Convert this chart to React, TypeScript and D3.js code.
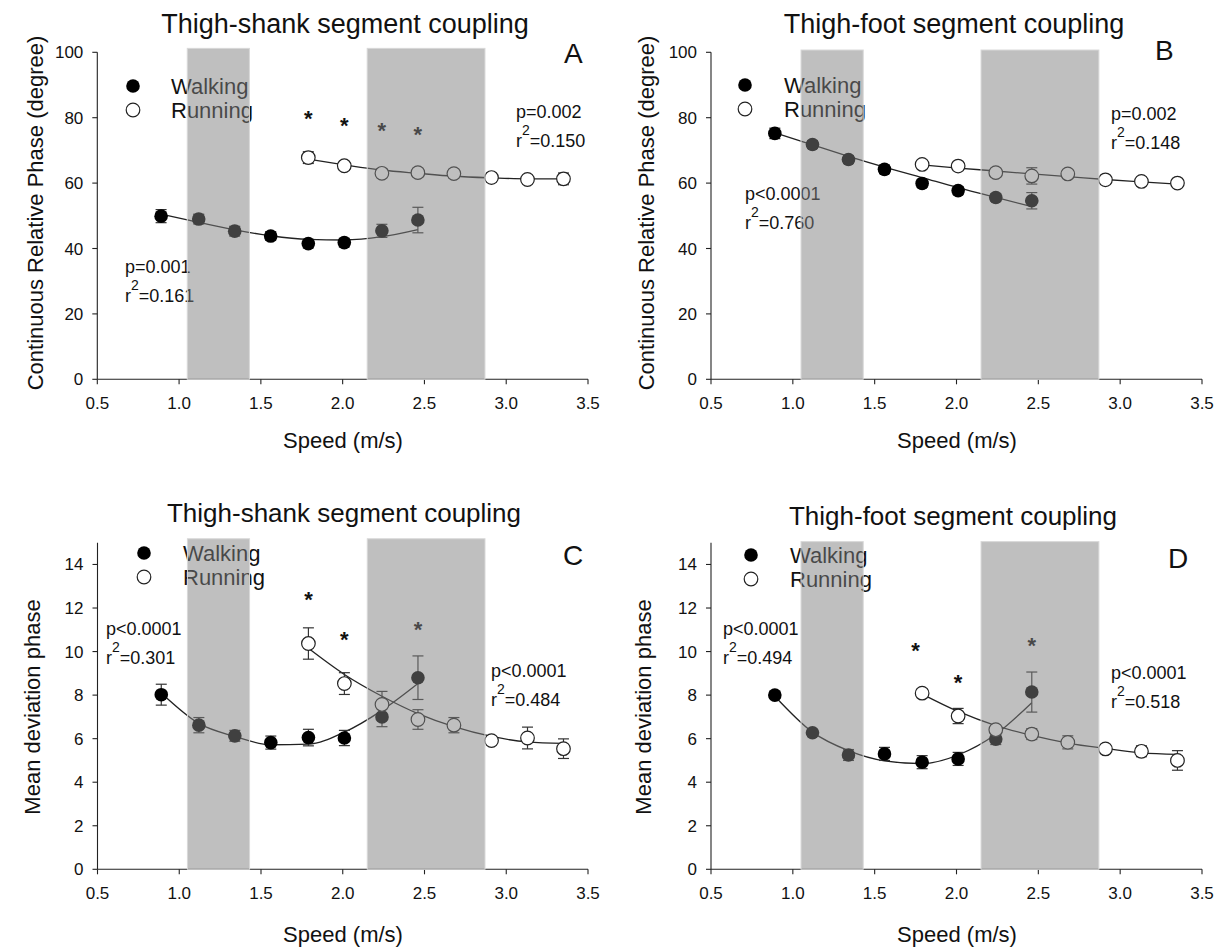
import React from "react";
import * as d3 from "d3";

// ---------- data ----------
const walkSpeed = [0.89, 1.12, 1.34, 1.56, 1.79, 2.01, 2.24, 2.46];
const runSpeed = [1.79, 2.01, 2.24, 2.46, 2.68, 2.91, 3.13, 3.35];
const xTicks = [0.5, 1.0, 1.5, 2.0, 2.5, 3.0, 3.5];
const yTicksCRP = [0, 20, 40, 60, 80, 100];
const yTicksMD = [0, 2, 4, 6, 8, 10, 12, 14];
const shadeBands = [
  [1.05, 1.43],
  [2.15, 2.87],
];
const legendLabels = ["Walking", "Running"];

// Panel A: thigh-shank CRP
const walkA = [49.9, 49.0, 45.3, 43.8, 41.5, 41.8, 45.4, 48.7];
const walkErrA = [2.0, 1.5, 1.5, 1.3, 1.3, 1.3, 2.0, 3.9];
const walkFitA = [50.5, 48.0, 45.7, 43.9, 42.8, 42.6, 43.6, 45.8];
const runA = [67.8, 65.3, 63.0, 63.2, 62.9, 61.7, 61.1, 61.3];
const runErrA = [1.8, 1.3, 1.3, 1.3, 1.3, 1.2, 1.2, 1.8];
const runFitA = [67.3, 65.6, 64.0, 63.0, 62.1, 61.6, 61.3, 61.3];
const starXA = [1.79, 2.01, 2.24, 2.46];
const starYA = [81.3, 79.0, 77.6, 76.4];

// Panel B: thigh-foot CRP
const walkB = [75.2, 71.8, 67.2, 64.2, 59.9, 57.7, 55.6, 54.6];
const walkErrB = [1.6, 1.2, 1.2, 1.3, 1.2, 1.2, 1.2, 2.5];
const walkFitB = [75.4, 71.7, 68.2, 64.9, 61.7, 58.6, 55.6, 52.8];
const runB = [65.7, 65.2, 63.2, 62.2, 62.8, 61.0, 60.5, 60.0];
const runErrB = [1.2, 1.2, 1.3, 2.5, 1.3, 1.2, 1.2, 1.2];
const runFitB = [65.6, 64.6, 63.7, 62.8, 62.0, 61.1, 60.4, 59.7];
const starXB: number[] = [];
const starYB: number[] = [];

// Panel C: thigh-shank MARP
const walkC = [8.02, 6.62, 6.13, 5.82, 6.05, 6.03, 7.0, 8.8];
const walkErrC = [0.48, 0.35, 0.25, 0.3, 0.38, 0.35, 0.45, 1.0];
const walkFitC = [8.1, 6.7, 6.1, 5.72, 5.75, 6.3, 7.3, 8.53];
const runC = [10.37, 8.53, 7.57, 6.88, 6.62, 5.91, 6.03, 5.54];
const runErrC = [0.72, 0.5, 0.6, 0.45, 0.35, 0.15, 0.5, 0.45];
const runFitC = [10.15, 8.95, 7.95, 7.15, 6.55, 6.1, 5.85, 5.78];
const starXC = [1.79, 2.01, 2.46];
const starYC = [12.6, 10.8, 11.25];

// Panel D: thigh-foot MARP
const walkD = [8.0, 6.27, 5.25, 5.3, 4.92, 5.07, 5.98, 8.14];
const walkErrD = [0.15, 0.15, 0.25, 0.3, 0.3, 0.3, 0.25, 0.92];
const walkFitD = [7.95, 6.3, 5.45, 4.98, 4.85, 5.25, 6.2, 7.65];
const runD = [8.09, 7.04, 6.41, 6.21, 5.83, 5.53, 5.42, 5.0];
const runErrD = [0.2, 0.35, 0.15, 0.25, 0.3, 0.2, 0.25, 0.45];
const runFitD = [8.05, 7.25, 6.6, 6.15, 5.8, 5.55, 5.35, 5.28];
const starXD = [1.75, 2.01, 2.46];
const starYD = [10.3, 8.8, 10.5];

const titleShank = "Thigh-shank segment coupling";
const titleFoot = "Thigh-foot segment coupling";
const yTitleCRP = "Continuous Relative Phase (degree)";
const yTitleMD = "Mean deviation phase";
const xTitle = "Speed (m/s)";

// ---------- panels (data + layout) ----------
const FONT = "'Liberation Sans', Arial, Helvetica, sans-serif";

type Panel = {
  letter: string;
  title: string;
  yTitle: string;
  yTicks: number[];
  yMax: number;
  walk: number[]; walkErr: number[]; walkFit: number[];
  run: number[]; runErr: number[]; runFit: number[];
  starX: number[]; starY: number[];
  statL: [string, string]; statR: [string, string];
  L: any;
};

const panels: Panel[] = [
  {
    letter: "A", title: titleShank, yTitle: yTitleCRP, yTicks: yTicksCRP, yMax: 100,
    walk: walkA, walkErr: walkErrA, walkFit: walkFitA,
    run: runA, runErr: runErrA, runFit: runFitA,
    starX: starXA, starY: starYA,
    statL: ["p=0.001", "=0.161"], statR: ["p=0.002", "=0.150"],
    L: { x0: 97.3, x1: 588, y0: 379.3, y1: 52.3, shadeTop: 101.2, titleX: 345, titleY: 33, titleSize: 27,
      letterX: 564, letterY: 63, yTitleX: 43, yTitleY: 213, xTitleX: 343, xTitleY: 448,
      legX: 133, legY: 86, legTextX: 171, statLX: 125, statLY: 273, statRX: 516, statRY: 118 },
  },
  {
    letter: "B", title: titleFoot, yTitle: yTitleCRP, yTicks: yTicksCRP, yMax: 100,
    walk: walkB, walkErr: walkErrB, walkFit: walkFitB,
    run: runB, runErr: runErrB, runFit: runFitB,
    starX: starXB, starY: starYB,
    statL: ["p<0.0001", "=0.760"], statR: ["p=0.002", "=0.148"],
    L: { x0: 711, x1: 1202, y0: 379.3, y1: 52.3, shadeTop: 100.7, titleX: 954, titleY: 33, titleSize: 27,
      letterX: 1155, letterY: 60, yTitleX: 654, yTitleY: 213, xTitleX: 957, xTitleY: 448,
      legX: 745, legY: 85, legTextX: 784, statLX: 745, statLY: 200, statRX: 1111, statRY: 120 },
  },
  {
    letter: "C", title: titleShank, yTitle: yTitleMD, yTicks: yTicksMD, yMax: 15,
    walk: walkC, walkErr: walkErrC, walkFit: walkFitC,
    run: runC, runErr: runErrC, runFit: runFitC,
    starX: starXC, starY: starYC,
    statL: ["p<0.0001", "=0.301"], statR: ["p<0.0001", "=0.484"],
    L: { x0: 97.5, x1: 588, y0: 869.3, y1: 542.7, shadeTop: 15.18, titleX: 344, titleY: 522, titleSize: 26,
      letterX: 563, letterY: 565, yTitleX: 40, yTitleY: 707, xTitleX: 343, xTitleY: 942,
      legX: 144, legY: 553, legTextX: 183, statLX: 106, statLY: 635, statRX: 491, statRY: 677 },
  },
  {
    letter: "D", title: titleFoot, yTitle: yTitleMD, yTicks: yTicksMD, yMax: 15,
    walk: walkD, walkErr: walkErrD, walkFit: walkFitD,
    run: runD, runErr: runErrD, runFit: runFitD,
    starX: starXD, starY: starYD,
    statL: ["p<0.0001", "=0.494"], statR: ["p<0.0001", "=0.518"],
    L: { x0: 711, x1: 1202, y0: 869.3, y1: 542.7, shadeTop: 15.05, titleX: 953, titleY: 525, titleSize: 26,
      letterX: 1168, letterY: 568, yTitleX: 651, yTitleY: 707, xTitleX: 957, xTitleY: 942,
      legX: 751, legY: 555, legTextX: 790, statLX: 723, statLY: 635, statRX: 1111, statRY: 679 },
  },
];

const R = 6.8;

function Stat({ x, y, lines }: { x: number; y: number; lines: [string, string] }) {
  return (
    <g fontFamily={FONT} fontSize={18} fill="#111">
      <text x={x} y={y}>{lines[0]}</text>
      <text x={x} y={y + 29}>
        r<tspan fontSize={14} dy={-12}>2</tspan>
        <tspan dy={12}>{lines[1]}</tspan>
      </text>
    </g>
  );
}

function PanelView({ p }: { p: Panel }) {
  const L = p.L;
  const x = d3.scaleLinear().domain([0.5, 3.5]).range([L.x0, L.x1]);
  const y = d3.scaleLinear().domain([0, p.yMax]).range([L.y0, L.y1]);
  const line = d3
    .line<[number, number]>()
    .x((d) => x(d[0]))
    .y((d) => y(d[1]))
    .curve(d3.curveMonotoneX);
  const walkFitPts = walkSpeed.map((s, i) => [s, p.walkFit[i]] as [number, number]);
  const runFitPts = runSpeed.map((s, i) => [s, p.runFit[i]] as [number, number]);
  const yAxisTop = y(p.yTicks[p.yTicks.length - 1] === 100 ? 100 : 15);

  const errBars = (speeds: number[], vals: number[], errs: number[], key: string) =>
    speeds.map((s, i) => {
      const cx = x(s);
      const top = y(vals[i] + errs[i]);
      const bot = y(vals[i] - errs[i]);
      return (
        <g key={key + i} stroke="#333" strokeWidth={1.2}>
          <line x1={cx} x2={cx} y1={top} y2={bot} />
          <line x1={cx - 5.5} x2={cx + 5.5} y1={top} y2={top} />
          <line x1={cx - 5.5} x2={cx + 5.5} y1={bot} y2={bot} />
        </g>
      );
    });

  return (
    <g>
      {/* title */}
      <text x={L.titleX} y={L.titleY} textAnchor="middle" fontFamily={FONT} fontSize={L.titleSize} fill="#111">
        {p.title}
      </text>
      <text x={L.letterX} y={L.letterY} fontFamily={FONT} fontSize={28} fill="#111">
        {p.letter}
      </text>

      {/* axes */}
      <g stroke="#222" strokeWidth={1.1} fill="none">
        <line x1={L.x0} x2={L.x0} y1={L.y0} y2={yAxisTop} />
        <line x1={L.x0} x2={L.x1} y1={L.y0} y2={L.y0} />
        {p.yTicks.map((t) => (
          <line key={"yt" + t} x1={L.x0 - 5} x2={L.x0} y1={y(t)} y2={y(t)} />
        ))}
        {xTicks.map((t) => (
          <line key={"xt" + t} x1={x(t)} x2={x(t)} y1={L.y0} y2={L.y0 + 5} />
        ))}
      </g>
      <g fontFamily={FONT} fontSize={17} fill="#111">
        {p.yTicks.map((t) => (
          <text key={"yl" + t} x={L.x0 - 14} y={y(t) + 6} textAnchor="end">
            {t}
          </text>
        ))}
        {xTicks.map((t) => (
          <text key={"xl" + t} x={x(t)} y={L.y0 + 30} textAnchor="middle">
            {t.toFixed(1)}
          </text>
        ))}
      </g>
      <text
        transform={`translate(${L.yTitleX},${L.yTitleY}) rotate(-90)`}
        textAnchor="middle"
        fontFamily={FONT}
        fontSize={22}
        fill="#111"
      >
        {p.yTitle}
      </text>
      <text x={L.xTitleX} y={L.xTitleY} textAnchor="middle" fontFamily={FONT} fontSize={22} fill="#111">
        {xTitle}
      </text>

      {/* legend */}
      <g fontFamily={FONT} fontSize={22} fill="#111">
        <circle cx={L.legX} cy={L.legY} r={R} fill="#000" />
        <circle cx={L.legX} cy={L.legY + 24} r={R} fill="#fff" stroke="#222" strokeWidth={1.2} />
        <text x={L.legTextX} y={L.legY + 8}>{legendLabels[0]}</text>
        <text x={L.legTextX} y={L.legY + 32}>{legendLabels[1]}</text>
      </g>

      {/* stats */}
      <Stat x={L.statLX} y={L.statLY} lines={p.statL} />
      <Stat x={L.statRX} y={L.statRY} lines={p.statR} />

      {/* asterisks */}
      <g fontFamily={FONT} fontSize={22} fontWeight="bold" fill="#111" textAnchor="middle">
        {p.starX.map((s, i) => (
          <text key={"st" + i} x={x(s)} y={y(p.starY[i]) + 12.5}>
            *
          </text>
        ))}
      </g>

      {/* fits */}
      <path d={line(walkFitPts) || ""} fill="none" stroke="#222" strokeWidth={1.3} />
      <path d={line(runFitPts) || ""} fill="none" stroke="#222" strokeWidth={1.3} />

      {/* error bars + markers */}
      {errBars(walkSpeed, p.walk, p.walkErr, "we")}
      {errBars(runSpeed, p.run, p.runErr, "re")}
      {walkSpeed.map((s, i) => (
        <circle key={"w" + i} cx={x(s)} cy={y(p.walk[i])} r={R} fill="#000" />
      ))}
      {runSpeed.map((s, i) => (
        <circle key={"r" + i} cx={x(s)} cy={y(p.run[i])} r={R} fill="#fff" stroke="#222" strokeWidth={1.2} />
      ))}

      {/* shaded speed bands (semi-transparent overlay) */}
      {shadeBands.map((b, i) => (
        <rect
          key={"sh" + i}
          x={x(b[0])}
          width={x(b[1]) - x(b[0])}
          y={y(L.shadeTop)}
          height={L.y0 - y(L.shadeTop)}
          fill="#808080"
          fillOpacity={0.5}
          stroke="#d8d8d8"
          strokeWidth={1}
        />
      ))}
    </g>
  );
}

export default function App() {
  return (
    <svg
      width={1223}
      height={952}
      viewBox="0 0 1223 952"
      style={{ position: "absolute", left: 0, top: 0, background: "#fff" }}
    >
      <rect x={0} y={0} width={1223} height={952} fill="#fff" />
      {panels.map((p) => (
        <PanelView key={p.letter} p={p} />
      ))}
    </svg>
  );
}
